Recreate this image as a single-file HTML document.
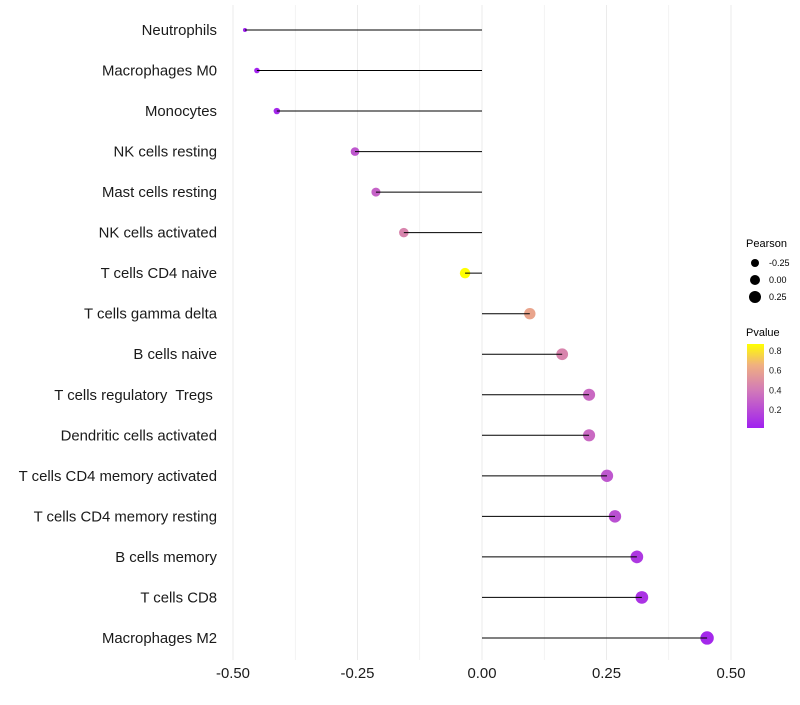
<!DOCTYPE html>
<html><head><meta charset="utf-8"><style>
body{margin:0;background:#fff;font-family:"Liberation Sans",sans-serif}
</style></head><body>
<svg id="chart" width="800" height="700" xmlns="http://www.w3.org/2000/svg" font-family="Liberation Sans, sans-serif">
<defs><linearGradient id="pg" x1="0" y1="1" x2="0" y2="0">
<stop offset="0" stop-color="#a020f0"/><stop offset="0.45" stop-color="#d27ab8"/><stop offset="0.75" stop-color="#f0b080"/><stop offset="1" stop-color="#ffff00"/></linearGradient></defs>
<g id="grid"></g>
<g id="points"></g>
<g id="marks"></g>
<g id="labels"></g>
<g id="xticks"></g>
<g>
<text x="746" y="247" font-size="11">Pearson</text>
<circle cx="755" cy="263" r="4" fill="#000"/>
<text x="769" y="266" font-size="9">-0.25</text>
<circle cx="755" cy="280" r="5" fill="#000"/>
<text x="769" y="283" font-size="9">0.00</text>
<circle cx="755" cy="297" r="6" fill="#000"/>
<text x="769" y="300" font-size="9">0.25</text>
<text x="746" y="336" font-size="11">Pvalue</text>
<rect x="747" y="344" width="17" height="84" fill="url(#pg)"/>
<g id="cbticks"></g>
</g>
</svg>
<script>
const cats=["Neutrophils","Macrophages M0","Monocytes","NK cells resting","Mast cells resting","NK cells activated","T cells CD4 naive","T cells gamma delta","B cells naive","T cells regulatory  Tregs ","Dendritic cells activated","T cells CD4 memory activated","T cells CD4 memory resting","B cells memory","T cells CD8","Macrophages M2"];
const pearson=[-0.476,-0.452,-0.412,-0.255,-0.213,-0.157,-0.034,0.096,0.161,0.215,0.215,0.251,0.267,0.311,0.321,0.452];
const pvalue=[0.02,0.03,0.05,0.25,0.3,0.45,0.87,0.6,0.45,0.33,0.33,0.25,0.22,0.12,0.1,0.05];
const xTicks=[-0.5,-0.25,0,0.25,0.5];
const xTickLabels=["-0.50","-0.25","0.00","0.25","0.50"];
const cbTicks=[0.2,0.4,0.6,0.8];
const NS="http://www.w3.org/2000/svg";
const X=v=>482+v*498;
const Y=i=>30+i*40.53;
const CB=p=>351+(0.8-p)/0.2*19.7;
const vmin=Math.min(...pearson),vmax=Math.max(...pearson);
const R=v=>2+4.7*Math.sqrt((v-vmin)/(vmax-vmin));
const stops=[[0,[160,32,240]],[0.45,[210,122,184]],[0.75,[240,176,128]],[1,[255,255,0]]];
function col(p){let t=Math.max(0,Math.min(1,(p-0.017)/(0.87-0.017)));for(let k=1;k<stops.length;k++){if(t<=stops[k][0]){const a=stops[k-1],b=stops[k],f=(t-a[0])/(b[0]-a[0]);return "rgb("+a[1].map((c,j)=>Math.round(c+(b[1][j]-c)*f)).join(",")+")";}}return "rgb(255,255,0)";}
function mk(t,at,par){const e=document.createElementNS(NS,t);for(const k in at)e.setAttribute(k,at[k]);document.getElementById(par).appendChild(e);return e;}
for(let v=-0.5;v<=0.51;v+=0.125){const e=mk("line",{x1:X(v),x2:X(v),y1:5,y2:660,stroke:"#ebebeb","stroke-width":Math.abs((v*4)%1)<0.01?1:0.6},"grid");

}
cats.forEach((c,i)=>{
const p=mk("circle",{cx:X(pearson[i]),cy:Y(i),r:R(pearson[i]),fill:col(pvalue[i])},"points");


const l=mk("line",{x1:X(0),x2:X(pearson[i]),y1:Y(i),y2:Y(i),stroke:"#000","stroke-width":1},"marks");


const t=mk("text",{x:217,y:Y(i)+5,"text-anchor":"end","font-size":14.9,fill:"#1a1a1a"},"labels");
t.setAttribute("xml:space","preserve");
t.style.whiteSpace="pre";
t.textContent=c;


});
xTicks.forEach((v,i)=>{const t=mk("text",{x:X(v),y:678,"text-anchor":"middle","font-size":14.9,fill:"#1a1a1a"},"xticks");
t.textContent=xTickLabels[i];

});
cbTicks.forEach(v=>{const t=mk("text",{x:769,y:CB(v)+3,"font-size":9,fill:"#1a1a1a"},"cbticks");
t.textContent=v.toFixed(1);

});
</script>
</body></html>
